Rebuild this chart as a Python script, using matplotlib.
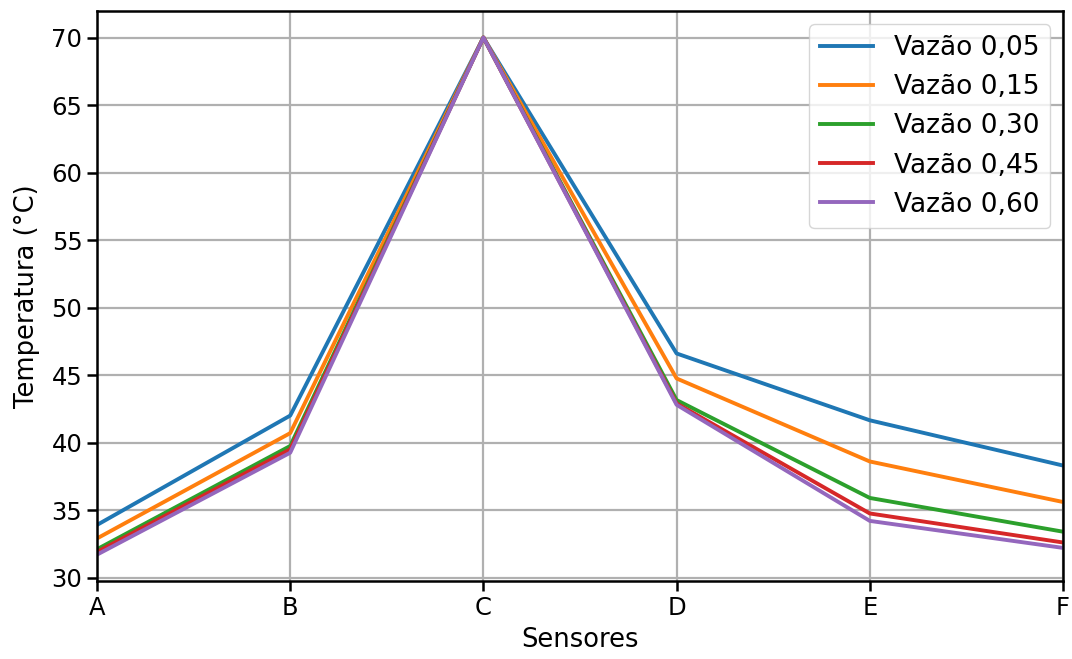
import matplotlib
matplotlib.use("Agg")
import matplotlib.pyplot as plt

sensores = ["A", "B", "C", "D", "E", "F"]
vazao_005 = [33.9, 42.0, 70.0, 46.6, 41.65, 38.3]
vazao_015 = [32.9, 40.7, 70.0, 44.75, 38.6, 35.6]
vazao_030 = [32.1, 39.75, 70.0, 43.15, 35.9, 33.4]
vazao_045 = [31.9, 39.5, 70.0, 42.9, 34.75, 32.6]
vazao_060 = [31.7, 39.25, 70.0, 42.8, 34.2, 32.2]
series = [
    ("Vazão 0,05", vazao_005, "#1f77b4"),
    ("Vazão 0,15", vazao_015, "#ff7f0e"),
    ("Vazão 0,30", vazao_030, "#2ca02c"),
    ("Vazão 0,45", vazao_045, "#d62728"),
    ("Vazão 0,60", vazao_060, "#9467bd"),
]

plt.rcParams['font.family'] = ['DejaVu Sans']
fig = plt.figure(figsize=(10.72, 6.59), dpi=100)
ax = fig.add_axes([0.0905, 0.1184, 0.9011, 0.8646])
x = list(range(len(sensores)))
for label, vals, color in series:
    ax.plot(x, vals, color=color, linewidth=2.8, label=label)

ax.set_xlim(0, len(sensores) - 1)
ax.set_xticks(x)
ax.set_xticklabels(sensores)
ax.set_yticks([30, 35, 40, 45, 50, 55, 60, 65, 70])
ax.set_ylim(29.75, 71.95)
ax.grid(True, color="#b0b0b0", linewidth=1.6)
ax.tick_params(labelsize=17.5, length=7, width=1.8)
for s in ax.spines.values():
    s.set_linewidth(1.8)
ax.set_xlabel("Sensores", fontsize=18.5, labelpad=5)
ax.set_ylabel("Temperatura (°C)", fontsize=18.5, labelpad=8)
ax.legend(loc="upper right", fontsize=19, frameon=True)
fig.savefig("out.png", dpi=100)
